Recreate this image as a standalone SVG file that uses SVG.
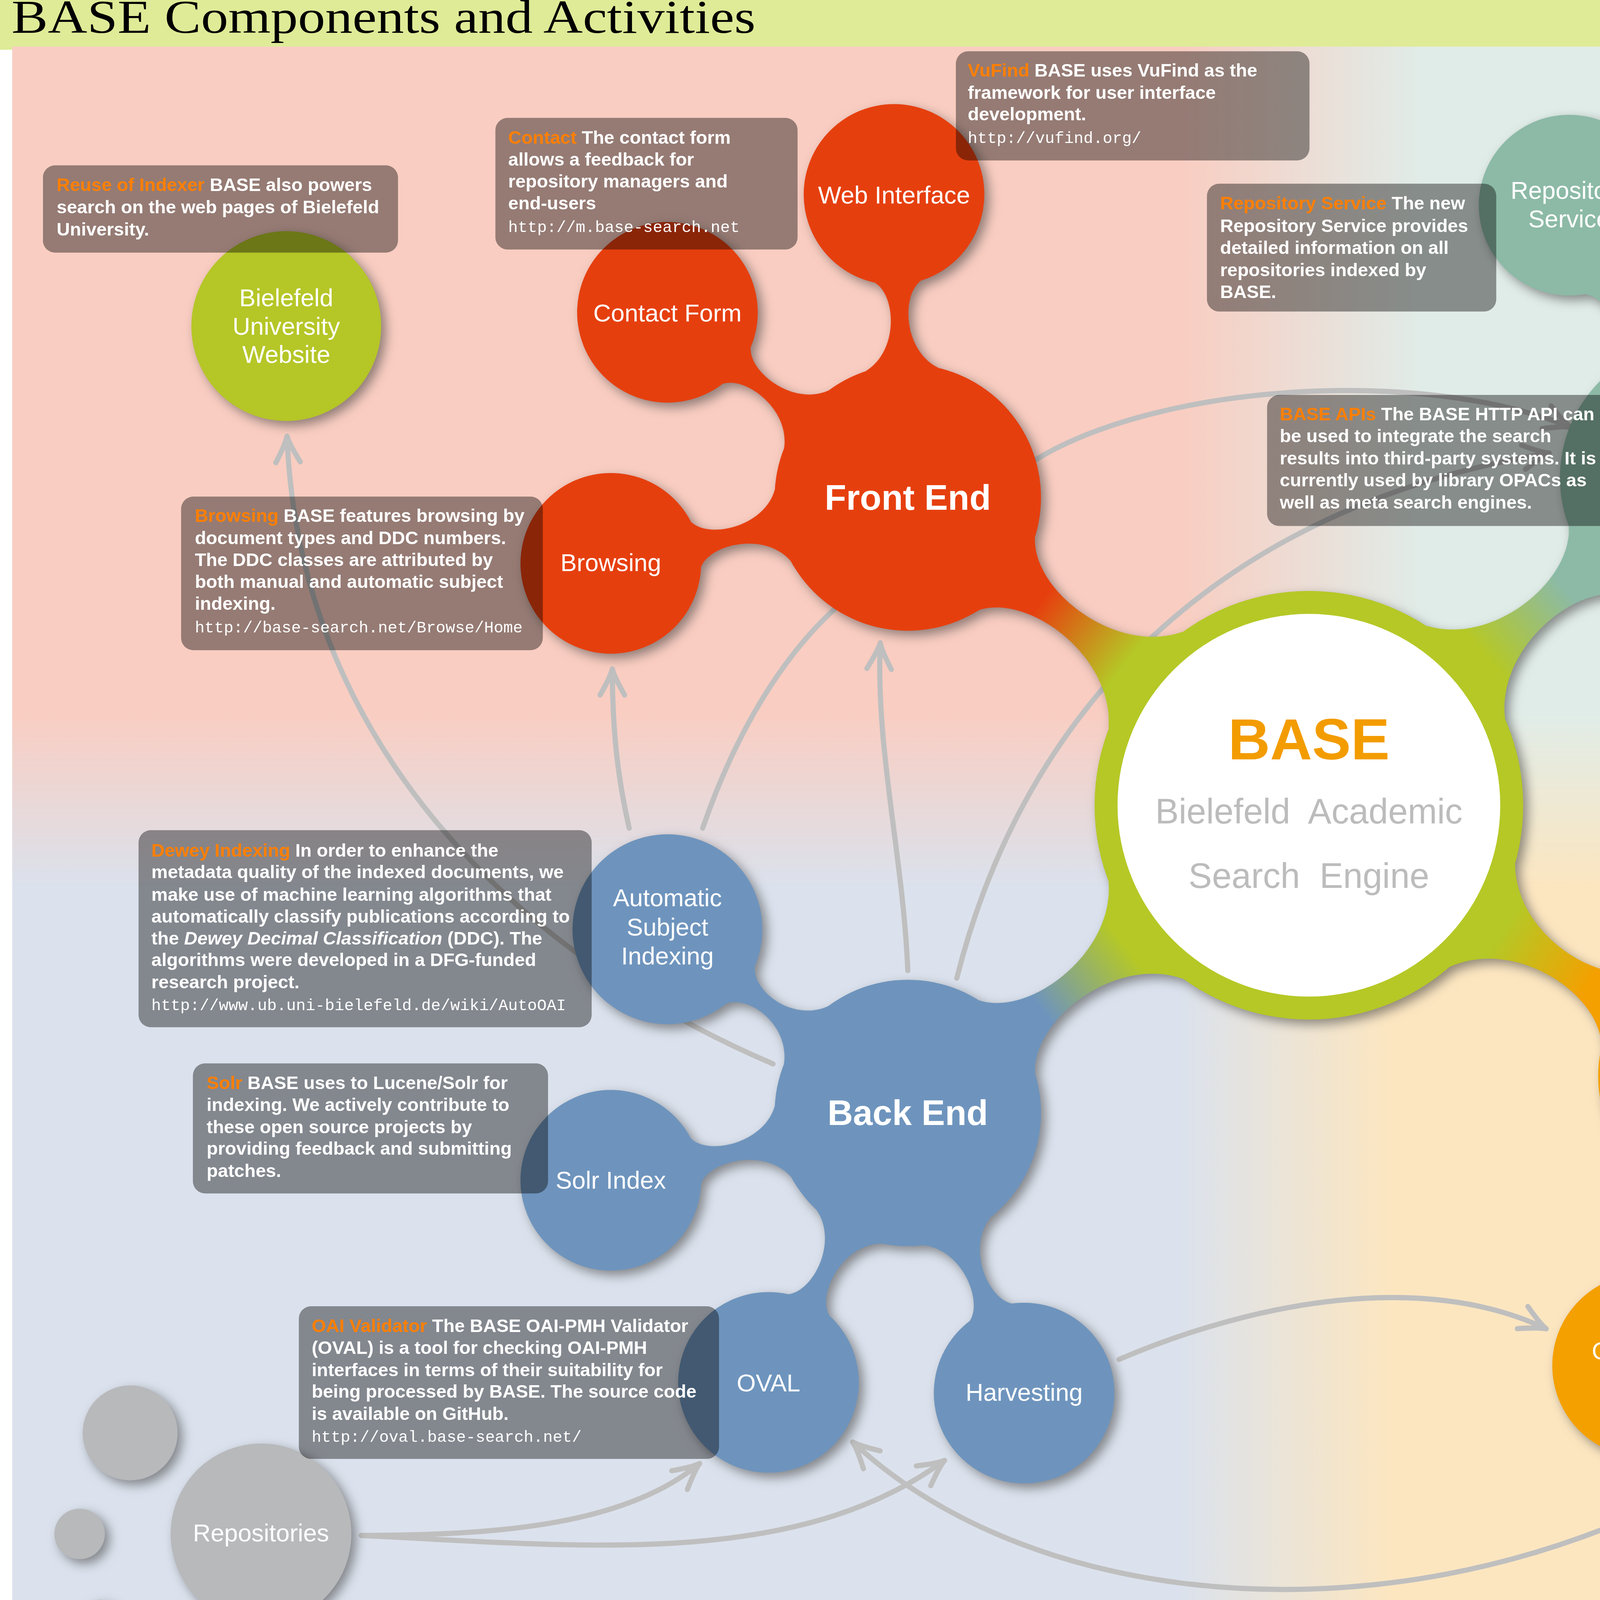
<svg xmlns="http://www.w3.org/2000/svg" width="6141" height="4125" viewBox="0 0 6141 4125">
<defs>
<style>
.bt{font-family:"Liberation Sans",Arial,sans-serif;font-weight:bold;font-size:12px;fill:#fff}
.ot{fill:#ff7f00}
.url{font-family:"Liberation Mono","Courier New",monospace;font-weight:normal;font-size:10.5px}
.note{fill:#000;fill-opacity:.4}
.nl{font-family:"Liberation Sans",Arial,sans-serif;font-size:16px;fill:#fff;text-anchor:middle}
.hub{font-weight:bold;font-size:23px}
.arrow{fill:none;stroke:#bfbfbf;stroke-width:3.4;stroke-linecap:round}
.fe{fill:#e63f0e}.be{fill:#6e94bd}.api{fill:#8cbaa6}.ca{fill:#f4a000}.gr{fill:#b8b9bb}
</style>
<linearGradient id="gTop" gradientUnits="userSpaceOnUse" x1="770" y1="0" x2="930" y2="0"><stop offset="0" stop-color="#f9cdc1"/><stop offset="1" stop-color="#e0ece8"/></linearGradient>
<linearGradient id="gBot" gradientUnits="userSpaceOnUse" x1="770" y1="0" x2="910" y2="0"><stop offset="0" stop-color="#dbe2ed"/><stop offset="1" stop-color="#fce6c0"/></linearGradient>
<linearGradient id="gV" gradientUnits="userSpaceOnUse" x1="0" y1="465" x2="0" y2="580"><stop offset="0" stop-color="#fff"/><stop offset="1" stop-color="#000"/></linearGradient>
<mask id="mTop" maskUnits="userSpaceOnUse" x="0" y="0" width="1567" height="1070"><rect x="0" y="0" width="1567" height="1070" fill="url(#gV)"/></mask>
<linearGradient id="nFE" x1="0" y1="0" x2="1" y2="0"><stop offset=".25" stop-color="#e63f0e"/><stop offset=".85" stop-color="#b5c826"/></linearGradient>
<linearGradient id="nBE" x1="0" y1="0" x2="1" y2="0"><stop offset=".25" stop-color="#6e94bd"/><stop offset=".85" stop-color="#b5c826"/></linearGradient>
<linearGradient id="nAPI" x1="0" y1="0" x2="1" y2="0"><stop offset=".25" stop-color="#8cbaa6"/><stop offset=".85" stop-color="#b5c826"/></linearGradient>
<linearGradient id="nCA" x1="0" y1="0" x2="1" y2="0"><stop offset=".25" stop-color="#f4a000"/><stop offset=".85" stop-color="#b5c826"/></linearGradient>
<filter id="sh" x="-5%" y="-5%" width="110%" height="110%" color-interpolation-filters="sRGB">
<feGaussianBlur in="SourceAlpha" stdDeviation="3.5"/>
<feOffset dx="3" dy="3" result="b"/>
<feFlood flood-color="#3a3a3a" flood-opacity="0.55"/>
<feComposite in2="b" operator="in"/>
</filter>
<marker id="ah" viewBox="-20 -11 22 22" refX="0" refY="0" markerWidth="22" markerHeight="22" markerUnits="userSpaceOnUse" orient="auto-start-reverse" overflow="visible">
<path d="M-17,-8 C-10,-4 -4,-1 0,0 C-4,1 -10,4 -17,8" fill="none" stroke="#bfbfbf" stroke-width="3.4" stroke-linecap="round" stroke-linejoin="round"/>
</marker>
</defs>
<g transform="scale(3.919)">
<g id="background">
<rect x="0" y="0" width="1567" height="1060" fill="#fff"/>
<path d="M0,-20 H1512 A50,50 0 0 1 1562,30 V1060 H0 Z" fill="#dfeb97"/>
<rect x="0" y="32.5" width="1555" height="1030" fill="#fff"/>
<rect x="8" y="30.5" width="1541.3" height="1035" fill="url(#gBot)"/>
<rect x="8" y="30.5" width="1541.3" height="1035" fill="url(#gTop)" mask="url(#mTop)"/>
</g>
<g id="title">
<text x="7.5" y="21.5" font-family="'Liberation Serif','Times New Roman',serif" font-size="31" fill="#000" textLength="486" lengthAdjust="spacingAndGlyphs">BASE Components and Activities</text>
</g>
<g id="connectors">
<path class="arrow" d="M505,695 C330,620 195,480 187.5,285" marker-end="url(#ah)"/>
<path class="arrow" d="M411,541 C404,510 400,480 400,437" marker-end="url(#ah)"/>
<path class="arrow" d="M459,541 C480,480 510,430 545,398"/>
<path class="arrow" d="M593,634 C590,560 572,490 575,420" marker-end="url(#ah)"/>
<path class="arrow" d="M677,300 C760,250 930,240 1026,279" marker-end="url(#ah)"/>
<path class="arrow" d="M625,639 C670,460 800,330 1012,296" marker-end="url(#ah)"/>
<path class="arrow" d="M236,1003 C330,1003 410,995 457,956" marker-end="url(#ah)"/>
<path class="arrow" d="M236,1003 C380,1010 520,1025 617,954" marker-end="url(#ah)"/>
<path class="arrow" d="M1195,912 C1000,1075 700,1075 557,942" marker-end="url(#ah)"/>
<path class="arrow" d="M731,888 C820,850 930,830 1010,868" marker-end="url(#ah)"/>
<path class="arrow" d="M1141,404 C1160,470 1165,540 1152,606" marker-start="url(#ah)" marker-end="url(#ah)"/>
<path class="arrow" d="M1357,228 L1440,179" marker-end="url(#ah)"/>
<path class="arrow" d="M1365,270 L1431,276" marker-end="url(#ah)"/>
<path class="arrow" d="M1335,409 L1416,384" marker-end="url(#ah)"/>
<path class="arrow" d="M1337,434 L1423,443" marker-end="url(#ah)"/>
<path class="arrow" d="M1330,458 L1400,495" marker-end="url(#ah)"/>
</g>
<g id="shadows" filter="url(#sh)">
<use href="#links"/>
<use href="#nodes"/>
</g>
<g id="links">
<path class="fe" transform="translate(593 325) rotate(-92.6)" d="M83.6,-24C95.6,-1.5 132.1,-1.5 141.1,-15L141.1,15C132.1,1.5 95.6,1.5 83.6,24Z"/>
<path class="fe" transform="translate(593 325) rotate(-142.4)" d="M83.6,-24C95.6,-1.5 132.1,-1.5 141.1,-15L141.1,15C132.1,1.5 95.6,1.5 83.6,24Z"/>
<path class="fe" transform="translate(593 325) rotate(167.5)" d="M83.6,-24C95.6,-1.5 132.6,-1.5 141.6,-15L141.6,15C132.6,1.5 95.6,1.5 83.6,24Z"/>
<path class="be" transform="translate(593 727) rotate(-142.6)" d="M83.6,-24C95.6,-1.5 128.4,-1.5 137.4,-15L137.4,15C128.4,1.5 95.6,1.5 83.6,24Z"/>
<path class="be" transform="translate(593 727) rotate(167.2)" d="M83.6,-24C95.6,-1.5 132.8,-1.5 141.8,-15L141.8,15C132.8,1.5 95.6,1.5 83.6,24Z"/>
<path class="be" transform="translate(593 727) rotate(117.3)" d="M83.6,-24C95.6,-1.5 132,-1.5 141,-15L141,15C132,1.5 95.6,1.5 83.6,24Z"/>
<path class="be" transform="translate(593 727) rotate(67.4)" d="M83.6,-24C95.6,-1.5 132.1,-1.5 141.1,-15L141.1,15C132.1,1.5 95.6,1.5 83.6,24Z"/>
<path class="api" transform="translate(1108 312) rotate(-115)" d="M85.7,-24C97.7,-1.5 130.3,-1.5 139.3,-15L139.3,15C130.3,1.5 97.7,1.5 85.7,24Z"/>
<path class="api" transform="translate(1108 312) rotate(-64.7)" d="M85.7,-24C97.7,-1.5 130.7,-1.5 139.7,-15L139.7,15C130.7,1.5 97.7,1.5 85.7,24Z"/>
<path class="api" transform="translate(1108 312) rotate(-14.6)" d="M85.7,-24C97.7,-1.5 132.3,-1.5 141.3,-15L141.3,15C132.3,1.5 97.7,1.5 85.7,24Z"/>
<path class="api" transform="translate(1108 312) rotate(35.2)" d="M85.7,-24C97.7,-1.5 133.4,-1.5 142.4,-15L142.4,15C133.4,1.5 97.7,1.5 85.7,24Z"/>
<path class="ca" transform="translate(1133 703) rotate(-42.3)" d="M85.7,-24C97.7,-1.5 132.8,-1.5 141.8,-15L141.8,15C132.8,1.5 97.7,1.5 85.7,24Z"/>
<path class="ca" transform="translate(1133 703) rotate(7.8)" d="M85.7,-24C97.7,-1.5 133.7,-1.5 142.7,-15L142.7,15C133.7,1.5 97.7,1.5 85.7,24Z"/>
<path class="ca" transform="translate(1133 703) rotate(56.6)" d="M85.7,-24C97.7,-1.5 128.3,-1.5 137.3,-15L137.3,15C128.3,1.5 97.7,1.5 85.7,24Z"/>
<path class="ca" transform="translate(1133 703) rotate(107.3)" d="M85.7,-24C97.7,-1.5 130.9,-1.5 139.9,-15L139.9,15C130.9,1.5 97.7,1.5 85.7,24Z"/>
<path fill="url(#nFE)" transform="translate(593 325) rotate(37.5)" d="M81.7,-30C101.7,-1 171,-1 196,-40L196,40C171,1 101.7,1 81.7,30Z"/>
<path fill="url(#nBE)" transform="translate(593 727) rotate(-37.5)" d="M81.7,-30C101.7,-1 171,-1 196,-40L196,40C171,1 101.7,1 81.7,30Z"/>
<path fill="url(#nAPI)" transform="translate(1108 312) rotate(139.8)" d="M83.8,-30C103.8,-1 172.2,-1 197.2,-40L197.2,40C172.2,1 103.8,1 83.8,30Z"/>
<path fill="url(#nCA)" transform="translate(1133 703) rotate(-147.5)" d="M83.8,-30C103.8,-1 170.4,-1 195.4,-40L195.4,40C170.4,1 103.8,1 83.8,30Z"/>
</g>
<g id="nodes">
<g id="base">
<circle cx="855" cy="526" r="140" fill="#b5c826"/>
<circle cx="855" cy="526" r="125" fill="#fff"/>
<text x="855" y="496" text-anchor="middle" font-family="'Liberation Sans',Arial,sans-serif" font-weight="bold" font-size="38" fill="#f39c00">BASE</text>
<text x="855" y="538" text-anchor="middle" font-family="'Liberation Sans',Arial,sans-serif" font-size="23" fill="#bcbcbc" xml:space="preserve">Bielefeld  Academic</text>
<text x="855" y="580" text-anchor="middle" font-family="'Liberation Sans',Arial,sans-serif" font-size="23" fill="#bcbcbc" xml:space="preserve">Search  Engine</text>
</g>
<g id="front-end"><circle class="fe" cx="593" cy="325" r="87"/><text class="nl hub" x="593" y="333">Front End</text></g>
<g id="web-interface"><circle class="fe" cx="584" cy="127" r="59"/><text class="nl" x="584" y="133">Web Interface</text></g>
<g id="contact-form"><circle class="fe" cx="436" cy="204" r="59"/><text class="nl" x="436" y="210">Contact Form</text></g>
<g id="browsing"><circle class="fe" cx="399" cy="368" r="59"/><text class="nl" x="399" y="373">Browsing</text></g>
<g id="back-end"><circle class="be" cx="593" cy="727" r="87"/><text class="nl hub" x="593" y="735">Back End</text></g>
<g id="auto-subject-indexing"><circle class="be" cx="436" cy="607" r="62"/><text class="nl"><tspan x="436" y="592">Automatic</tspan><tspan x="436" y="611">Subject</tspan><tspan x="436" y="630">Indexing</tspan></text></g>
<g id="solr-index"><circle class="be" cx="399" cy="771" r="59"/><text class="nl" x="399" y="776.5">Solr Index</text></g>
<g id="oval"><circle class="be" cx="502" cy="903" r="59"/><text class="nl" x="502" y="909">OVAL</text></g>
<g id="harvesting"><circle class="be" cx="669" cy="910" r="59"/><text class="nl" x="669" y="915">Harvesting</text></g>
<g id="apis"><circle class="api" cx="1108" cy="312" r="89"/><text class="nl hub" x="1109" y="321">APIs</text></g>
<g id="repository-service"><circle class="api" cx="1025" cy="134" r="59"/><text class="nl"><tspan x="1025" y="130">Repository</tspan><tspan x="1025" y="148.5">Service</tspan></text></g>
<g id="oai-pmh"><circle class="api" cx="1192" cy="134" r="59"/><text class="nl" x="1192" y="139.5">OAI-PMH</text></g>
<g id="http-api"><circle class="api" cx="1300" cy="262" r="59"/><text class="nl" x="1300" y="268">HTTP API</text></g>
<g id="subject-api"><circle class="api" cx="1271" cy="427" r="59"/><text class="nl" x="1271" y="432">Subject API</text></g>
<g id="community"><circle class="ca" cx="1133" cy="703" r="89"/><text class="nl hub"><tspan x="1134" y="699">Community</tspan><tspan x="1134" y="726">Activities</tspan></text></g>
<g id="base-blog"><circle class="ca" cx="1280" cy="569" r="59"/><text class="nl" x="1280" y="574">BASE Blog</text></g>
<g id="twitter"><circle class="ca" cx="1331" cy="730" r="59"/><text class="nl"><tspan x="1331" y="726">Twitter:</tspan><tspan x="1331" y="744.5">@BASEsearch</tspan></text></g>
<g id="experience-sharing"><circle class="ca" cx="1241" cy="867" r="61"/><text class="nl"><tspan x="1241" y="857">OAI-PMH</tspan><tspan x="1241" y="875.5">Experience</tspan><tspan x="1241" y="894">Sharing</tspan></text></g>
<g id="oai-pmh-blog"><circle class="ca" cx="1074" cy="892" r="60"/><text class="nl"><tspan x="1074" y="888">OAI-PMH</tspan><tspan x="1074" y="906.5">Blog</tspan></text></g>
<g id="bielefeld-website"><circle cx="187" cy="213" r="62" fill="#b5c627"/><text class="nl"><tspan x="187" y="200">Bielefeld</tspan><tspan x="187" y="218.7">University</tspan><tspan x="187" y="237">Website</tspan></text></g>
<g id="openaire"><circle cx="1344" cy="68" r="59" fill="#00a3d5"/><text class="nl"><tspan x="1344" y="64.5">OpenAIre</tspan><tspan x="1344" y="83">2020</tspan></text></g>
<g id="meta-search"><circle class="gr" cx="1498" cy="145" r="60"/><text class="nl"><tspan x="1498" y="139.5">Meta Search</tspan><tspan x="1498" y="158">Engines</tspan></text></g>
<g id="external-opacs"><circle class="gr" cx="1498" cy="284" r="60"/><text class="nl"><tspan x="1498" y="280">External</tspan><tspan x="1498" y="298">OPACs</tspan></text></g>
<g id="subject-repositories">
<circle cx="1449" cy="374.5" r="26" fill="#f9d893"/>
<circle cx="1463" cy="447" r="31" fill="#f29e83"/>
<circle cx="1423" cy="507" r="16" fill="#efb4ca"/>
</g>
<g id="repositories">
<circle class="gr" cx="170.5" cy="1002" r="59"/><text class="nl" x="170.5" y="1007">Repositories</text>
<circle class="gr" cx="85" cy="936" r="31"/>
<circle class="gr" cx="52" cy="1002" r="16.5"/>
<circle class="gr" cx="65" cy="1058" r="13"/>
</g>
</g>
<text x="1453" y="554" transform="rotate(-64 1453 554)" font-family="'Liberation Serif','Times New Roman',serif" font-size="18" fill="#a9a9a9" textLength="165" lengthAdjust="spacingAndGlyphs">Subject Repositories</text>
<g id="notes">
<g id="note-reuse"><rect class="note" x="28" y="108" width="232" height="57" rx="8"/>
<text class="bt"><tspan x="37" y="124.8"><tspan class="ot">Reuse of Indexer</tspan> BASE also powers</tspan><tspan x="37" y="139.4">search on the web pages of Bielefeld</tspan><tspan x="37" y="153.8">University.</tspan></text></g>
<g id="note-contact"><rect class="note" x="323.6" y="77" width="197.4" height="86" rx="8"/>
<text class="bt"><tspan x="332" y="93.9"><tspan class="ot">Contact</tspan> The contact form</tspan><tspan x="332" y="108.2">allows a feedback for</tspan><tspan x="332" y="122.4">repository managers and</tspan><tspan x="332" y="136.7">end-users</tspan><tspan class="url" x="332" y="151.5">http://m.base-search.net</tspan></text></g>
<g id="note-vufind"><rect class="note" x="624.4" y="33.5" width="231" height="71.3" rx="8"/>
<text class="bt"><tspan x="632.2" y="50.1"><tspan class="ot">VuFind</tspan> BASE uses VuFind as the</tspan><tspan x="632.2" y="64.5">framework for user interface</tspan><tspan x="632.2" y="78.6">development.</tspan><tspan class="url" x="632.2" y="93.4">http://vufind.org/</tspan></text></g>
<g id="note-repository-service"><rect class="note" x="788.4" y="120" width="189" height="83.5" rx="8"/>
<text class="bt"><tspan x="797" y="136.7"><tspan class="ot">Repository Service</tspan> The new</tspan><tspan x="797" y="151.5">Repository Service provides</tspan><tspan x="797" y="165.9">detailed information on all</tspan><tspan x="797" y="180.4">repositories indexed by</tspan><tspan x="797" y="194.8">BASE.</tspan></text></g>
<g id="note-base-apis"><rect class="note" x="827.7" y="258" width="231.7" height="85.6" rx="8"/>
<text class="bt"><tspan x="836" y="274.5"><tspan class="ot">BASE APIs</tspan> The BASE HTTP API can</tspan><tspan x="836" y="288.9">be used to integrate the search</tspan><tspan x="836" y="303.4">results into third-party systems. It is</tspan><tspan x="836" y="317.8">currently used by library OPACs as</tspan><tspan x="836" y="332.2">well as meta search engines.</tspan></text></g>
<g id="note-mdstore"><rect class="note" x="1087" y="7.3" width="210.5" height="71.3" rx="8"/>
<text class="bt"><tspan x="1096" y="23.9"><tspan class="ot">MDStore</tspan> The OAI-PMH interface</tspan><tspan x="1096" y="38.7">allows harvesting the BASE</tspan><tspan x="1096" y="52.8">metadata in two formats.</tspan><tspan class="url" x="1096" y="67.2">http://oai.base-search.net</tspan></text></g>
<g id="note-subject"><rect class="note" x="1139.7" y="318.4" width="232" height="86" rx="8"/>
<text class="bt"><tspan class="ot" x="1148.3" y="334.8">Subject-based Metadata Access</tspan><tspan x="1148.3" y="349.7">BASE offers access to</tspan><tspan x="1148.3" y="364.4">subject-specific publication</tspan><tspan x="1148.3" y="378.7">metadata subsets, e.g., for subject</tspan><tspan x="1148.3" y="393">repositories.</tspan></text></g>
<g id="note-base-blog"><rect class="note" x="1273.4" y="592" width="275" height="71" rx="8"/>
<text class="bt"><tspan x="1282" y="609.2"><tspan class="ot">BASE Blog</tspan> The BASE Blog communicates</tspan><tspan x="1282" y="623.7">new developments in the BASE front end to</tspan><tspan x="1282" y="638">the users.</tspan><tspan class="url" x="1282" y="652.4">http://ub.unibi.de/baseblog</tspan></text></g>
<g id="note-twitter"><rect class="note" x="1322" y="776.4" width="231" height="54.6" rx="8"/>
<text class="bt"><tspan x="1330" y="793.2"><tspan class="ot">Twitter</tspan> Our Twitter channel</tspan><tspan x="1330" y="807.7">announces news and developments</tspan><tspan x="1330" y="822">related to BASE on short notice.</tspan></text></g>
<g id="note-oaipmh-blog"><rect class="note" x="1072.5" y="917" width="296.5" height="100" rx="8"/>
<text class="bt"><tspan x="1081" y="934"><tspan class="ot">OAI-PMH Blog</tspan> We have harvested more than</tspan><tspan x="1081" y="948.5">3,000 repositories from all around the world.</tspan><tspan x="1081" y="962.8">This work has produced a wealth of experience</tspan><tspan x="1081" y="977.3">about harvesting and data quality that we would</tspan><tspan x="1081" y="991.4">like to share with the OA community.</tspan><tspan class="url" x="1081" y="1005.9">http://ub.unibi.de/oaiblog</tspan></text></g>
<g id="note-browsing"><rect class="note" x="118.3" y="324.4" width="236.3" height="100.3" rx="8"/>
<text class="bt"><tspan x="127.3" y="341"><tspan class="ot">Browsing</tspan> BASE features browsing by</tspan><tspan x="127.3" y="355.4">document types and DDC numbers.</tspan><tspan x="127.3" y="369.7">The DDC classes are attributed by</tspan><tspan x="127.3" y="384">both manual and automatic subject</tspan><tspan x="127.3" y="398.3">indexing.</tspan><tspan class="url" x="127.3" y="413">http://base-search.net/Browse/Home</tspan></text></g>
<g id="note-dewey"><rect class="note" x="90.5" y="542.3" width="296" height="128.7" rx="8"/>
<text class="bt"><tspan x="98.9" y="559.6"><tspan class="ot">Dewey Indexing</tspan> In order to enhance the</tspan><tspan x="98.9" y="573.7">metadata quality of the indexed documents, we</tspan><tspan x="98.9" y="588.3">make use of machine learning algorithms that</tspan><tspan x="98.9" y="602.8">automatically classify publications according to</tspan><tspan x="98.9" y="617">the <tspan font-style="italic">Dewey Decimal Classification</tspan> (DDC). The</tspan><tspan x="98.9" y="631.1">algorithms were developed in a DFG-funded</tspan><tspan x="98.9" y="645.7">research project.</tspan><tspan class="url" x="98.9" y="659.9">http://www.ub.uni-bielefeld.de/wiki/AutoOAI</tspan></text></g>
<g id="note-solr"><rect class="note" x="126" y="694.6" width="232" height="85" rx="8"/>
<text class="bt"><tspan x="135" y="711.5"><tspan class="ot">Solr</tspan> BASE uses to Lucene/Solr for</tspan><tspan x="135" y="725.7">indexing. We actively contribute to</tspan><tspan x="135" y="740.2">these open source projects by</tspan><tspan x="135" y="754.4">providing feedback and submitting</tspan><tspan x="135" y="768.9">patches.</tspan></text></g>
<g id="note-oval"><rect class="note" x="195.2" y="853.3" width="274.5" height="99.7" rx="8"/>
<text class="bt"><tspan x="203.6" y="870.2"><tspan class="ot">OAI Validator</tspan> The BASE OAI-PMH Validator</tspan><tspan x="203.6" y="884.4">(OVAL) is a tool for checking OAI-PMH</tspan><tspan x="203.6" y="898.9">interfaces in terms of their suitability for</tspan><tspan x="203.6" y="913.1">being processed by BASE. The source code</tspan><tspan x="203.6" y="927.6">is available on GitHub.</tspan><tspan class="url" x="203.6" y="941.8">http://oval.base-search.net/</tspan></text></g>
</g>
</g>
</svg>
